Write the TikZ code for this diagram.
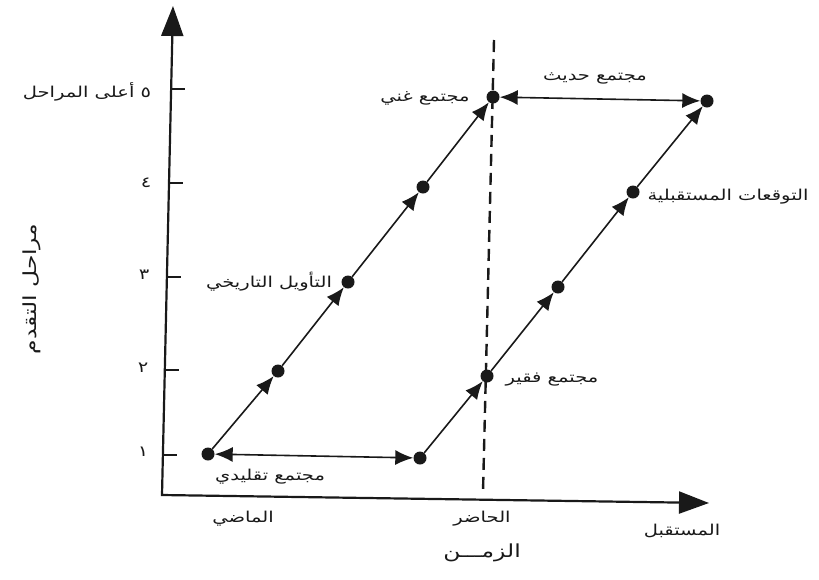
\documentclass[tikz,border=0pt]{standalone}
\usepackage{fontspec}
\newfontfamily\arabicfont[Script=Arabic, FakeStretch=1.3]{DejaVu Sans}
\TeXXeTstate=1
\usetikzlibrary{arrows.meta, positioning}
\definecolor{chartInk}{RGB}{25,25,25}
\newcommand{\arabtxt}[1]{\beginR #1\endR}

\begin{document}
\begin{tikzpicture}[
    x=1pt, y=-1pt,
    stage/.style={circle, fill=chartInk, inner sep=0pt, minimum size=13pt},
    lbl/.style={font=\fontsize{15}{17}\selectfont\arabicfont, text=chartInk, inner sep=1pt},
    biglbl/.style={font=\fontsize{18}{20}\selectfont\arabicfont, text=chartInk, inner sep=1pt},
    axes/.style={line width=2.2pt, chartInk, {Triangle[length=30pt,width=22pt]}-{Triangle[length=30pt,width=22pt]}},
    tickmark/.style={line width=1.6pt, chartInk},
    arr/.style={-{Latex[length=18pt,width=15pt]}, line width=1.6pt, chartInk},
    both/.style={{Latex[length=18pt,width=15pt]}-{Latex[length=18pt,width=15pt]}, line width=1.6pt, chartInk},
    present/.style={line width=2.4pt, chartInk, dash pattern=on 12pt off 7pt}
  ]
    \fill[white] (0,0) rectangle (819,579);
    \useasboundingbox (0,0) rectangle (819,579);

    % axes
    \coordinate (origin) at (162,495);
    \coordinate (ytop) at (173,6);
    \coordinate (xend) at (709,503);
    \draw[axes] (ytop) -- (origin) -- (xend);

    \draw[tickmark] (171,89) -- (185,89);
    \draw[tickmark] (169,183) -- (183,183);
    \draw[tickmark] (167,277) -- (181,277);
    \draw[tickmark] (165,370) -- (179,370);
    \draw[tickmark] (163,455) -- (177,455);

    % present line
    \coordinate (nowtop) at (494,40);
    \coordinate (nowbot) at (483,492);
    \draw[present] (nowtop) -- (nowbot);

    % stages
    \node[stage] (p1) at (208,454) {};
    \node[stage] (p2) at (278,371) {};
    \node[stage] (p3) at (348,282) {};
    \node[stage] (p4) at (423,187) {};
    \node[stage] (p5) at (493,97) {};
    \node[stage] (q1) at (420,458) {};
    \node[stage] (q2) at (487,376) {};
    \node[stage] (q3) at (558,287) {};
    \node[stage] (q4) at (633,192) {};
    \node[stage] (q5) at (707,101) {};

    \draw[arr] (p1) -- (p2);
    \draw[arr] (p2) -- (p3);
    \draw[arr] (p3) -- (p4);
    \draw[arr] (p4) -- (p5);
    \draw[arr] (q1) -- (q2);
    \draw[arr] (q2) -- (q3);
    \draw[arr] (q3) -- (q4);
    \draw[arr] (q4) -- (q5);
    \draw[both] (p1) -- (q1);
    \draw[both] (p5) -- (q5);

    % labels
    \node[lbl] (rich) at (425,98) {\arabtxt{مجتمع غني}};
    \node[lbl] (modern) at (595,78) {\arabtxt{مجتمع حديث}};
    \node[lbl] (history) at (269,282) {\arabtxt{التأويل التاريخي}};
    \node[lbl] (future) at (728,197) {\arabtxt{التوقعات المستقبلية}};
    \node[lbl] (poor) at (552,380) {\arabtxt{مجتمع فقير}};
    \node[lbl] (trad) at (270,477) {\arabtxt{مجتمع تقليدي}};

    \node[lbl] (past) at (243,519) {\arabtxt{الماضي}};
    \node[lbl] (now) at (482,519) {\arabtxt{الحاضر}};
    \node[lbl] (later) at (682,531) {\arabtxt{المستقبل}};
    \node[biglbl] (time) at (482,553) {\arabtxt{الزمـــن}};

    \node[biglbl, rotate=90] (stages) at (32,289) {\arabtxt{مراحل التقدم}};
    \node[lbl] (s5) at (87,92) {\arabtxt{٥ أعلى المراحل}};
    \node[lbl] (s4) at (146,183) {\arabtxt{٤}};
    \node[lbl] (s3) at (144,275) {\arabtxt{٣}};
    \node[lbl] (s2) at (143,368) {\arabtxt{٢}};
    \node[lbl] (s1) at (143,452) {\arabtxt{١}};
  \end{tikzpicture}
\end{document}
